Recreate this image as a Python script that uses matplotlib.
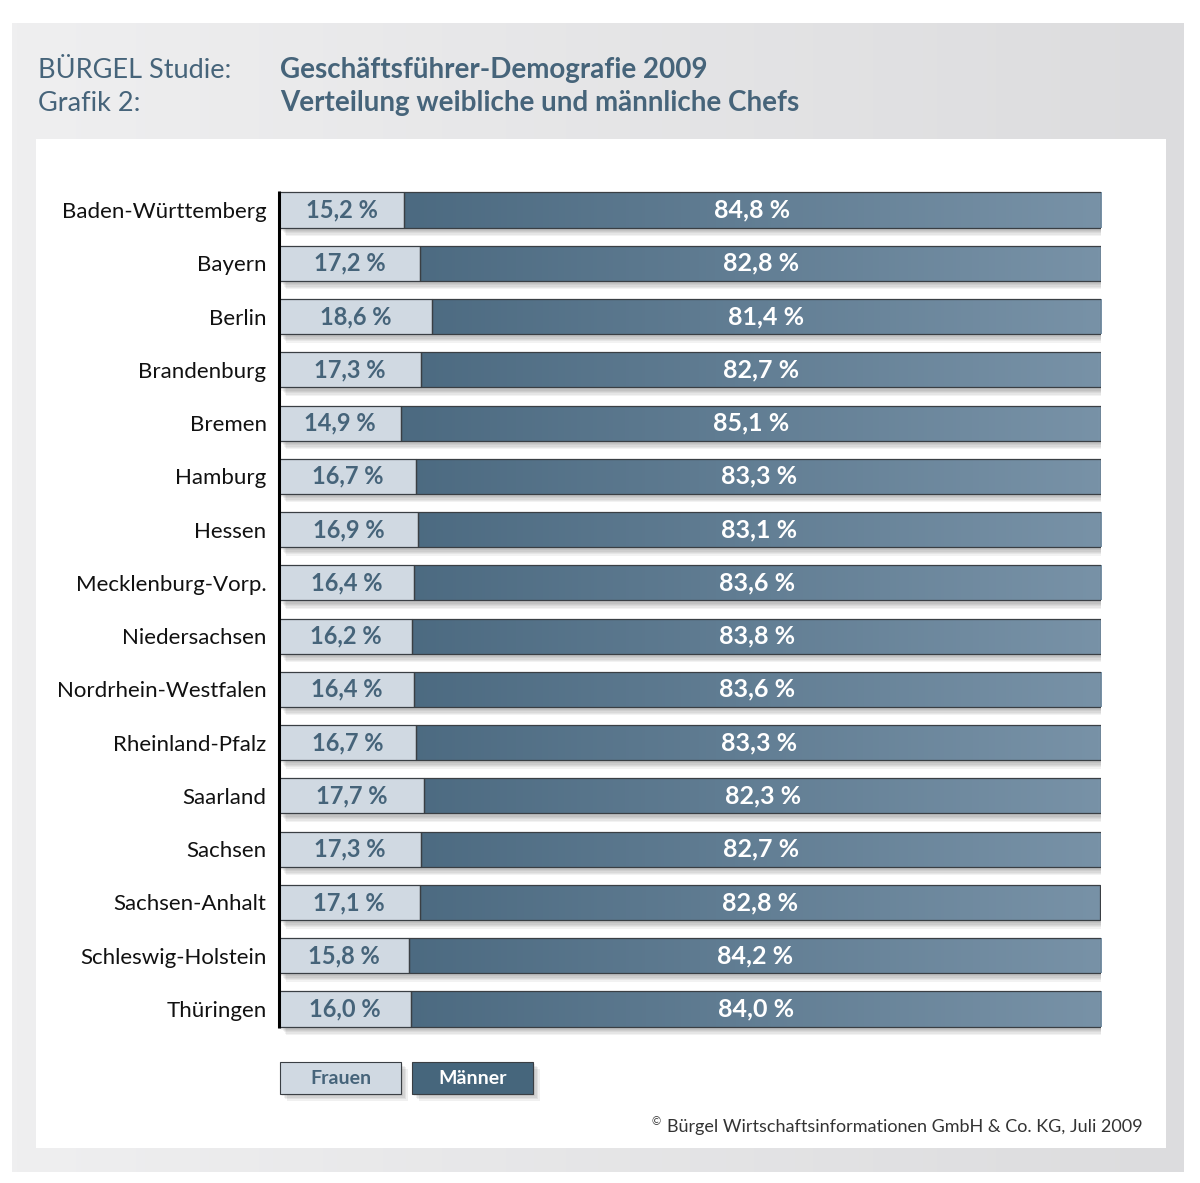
import numpy as np
import matplotlib
matplotlib.use("Agg")
import matplotlib.pyplot as plt
from matplotlib.patches import Rectangle
from matplotlib.colors import LinearSegmentedColormap

states = ["Baden-Württemberg", "Bayern", "Berlin", "Brandenburg", "Bremen",
          "Hamburg", "Hessen", "Mecklenburg-Vorp.", "Niedersachsen",
          "Nordrhein-Westfalen", "Rheinland-Pfalz", "Saarland", "Sachsen",
          "Sachsen-Anhalt", "Schleswig-Holstein", "Thüringen"]
frauen = [15.2, 17.2, 18.6, 17.3, 14.9, 16.7, 16.9, 16.4, 16.2, 16.4, 16.7,
          17.7, 17.3, 17.1, 15.8, 16.0]
maenner = [84.8, 82.8, 81.4, 82.7, 85.1, 83.3, 83.1, 83.6, 83.8, 83.6, 83.3,
           82.3, 82.7, 82.8, 84.2, 84.0]
legend_labels = ["Frauen", "Männer"]

FONT = "Lato"
c_text = "#46647a"
c_frauen = "#d0d9e2"
c_edge = "#3a3f44"
cmap_m = LinearSegmentedColormap.from_list("m", ["#44637a", "#7892a7"])

W, H = 1200, 1183
fig = plt.figure(figsize=(W / 100, H / 100), dpi=100)

# background panel
bg = fig.add_axes([0, 0, 1, 1])
bg.set_xlim(0, W)
bg.set_ylim(H, 0)
bg.axis("off")
grad = np.linspace(0, 1, 256).reshape(1, -1)
gcm = LinearSegmentedColormap.from_list("g", ["#efeff0", "#dcdcde"])
bg.imshow(grad, cmap=gcm, extent=(12, 1184, 1172, 23), aspect="auto", zorder=0)
bg.add_patch(Rectangle((36, 139), 1130, 1009, facecolor="white", edgecolor="none", zorder=1))
bg.set_xlim(0, W)
bg.set_ylim(H, 0)

bg.text(38, 70, "BÜRGEL Studie:", fontsize=19.5, family=FONT, color=c_text, va="center", zorder=5)
bg.text(38, 103, "Grafik 2:", fontsize=19.5, family=FONT, color=c_text, va="center", zorder=5)
bg.text(280, 70, "Geschäftsführer-Demografie 2009", fontsize=20, family=FONT,
        weight="bold", color=c_text, va="center", zorder=5)
bg.text(280, 103, "Verteilung weibliche und männliche Chefs", fontsize=20, family=FONT,
        weight="bold", color=c_text, va="center", zorder=5)
bg.text(1143, 1127, "Bürgel Wirtschaftsinformationen GmbH & Co. KG, Juli 2009",
        fontsize=13, family=FONT, color="#333333", ha="right", va="center", zorder=5)
bg.text(652, 1122, "©", fontsize=8, family=FONT, color="#333333", ha="left", va="center", zorder=5)

# legend boxes
for i, (lab, fc, tc) in enumerate(zip(legend_labels, [c_frauen, "#46667c"], [c_text, "white"])):
    x0 = 280 + i * 132
    for k in range(4):
        bg.add_patch(Rectangle((x0 + 2 + k * 1.5, 1064 + k * 1.5), 121, 32, facecolor="black",
                               alpha=0.06, edgecolor="none", zorder=2))
    bg.add_patch(Rectangle((x0, 1062), 121, 32, facecolor=fc, edgecolor=c_edge, lw=0.8, zorder=3))
    bg.text(x0 + 60.5, 1078, lab, fontsize=14, family=FONT, weight="bold", color=tc,
            ha="center", va="center", zorder=5)

# bar axes
top, bottom = 183.4, 1035.6
ax = fig.add_axes([279 / W, 1 - bottom / H, (1101 - 279) / W, (bottom - top) / H])
ax.patch.set_alpha(0)
n = len(states)
y = np.arange(n)
h = 0.66

for i in range(n):
    f, m = frauen[i], maenner[i]
    # shadow
    for k in range(5):
        ax.add_patch(Rectangle((0.3 + k * 0.15, y[i] - h / 2 + 0.06 + k * 0.025), f + m, h,
                               facecolor="black", alpha=0.05, edgecolor="none", zorder=1))
    ax.add_patch(Rectangle((0, y[i] - h / 2), f, h, facecolor=c_frauen, edgecolor=c_edge,
                           lw=0.9, zorder=3))
    rm = Rectangle((f, y[i] - h / 2), m, h, facecolor="none", edgecolor=c_edge, lw=0.9, zorder=4)
    ax.add_patch(rm)
    im = ax.imshow(grad, cmap=cmap_m, extent=(0, 100, y[i] + h / 2, y[i] - h / 2),
                   aspect="auto", zorder=2)
    im.set_clip_path(rm)
    ax.text(f / 2, y[i], f"{f:.1f} %".replace(".", ","), fontsize=17, family=FONT,
            weight="bold", color=c_text, ha="center", va="center", zorder=5)
    ax.text(f + m / 2, y[i], f"{m:.1f} %".replace(".", ","), fontsize=18, family=FONT,
            weight="bold", color="white", ha="center", va="center", zorder=5)

ax.plot([0, 0], [-h / 2 - 0.03, n - 1 + h / 2 + 0.03], color="black", lw=2.2, zorder=6,
        clip_on=False, solid_capstyle="butt")
ax.set_xlim(0, 100)
ax.set_ylim(n - 0.5, -0.5)
ax.set_yticks(y)
ax.set_yticklabels(states, family=FONT, fontsize=16, color="#111111")
ax.tick_params(axis="y", length=0, pad=9)
ax.set_xticks([])
for s in ax.spines.values():
    s.set_visible(False)

fig.savefig("out.png", dpi=100)
